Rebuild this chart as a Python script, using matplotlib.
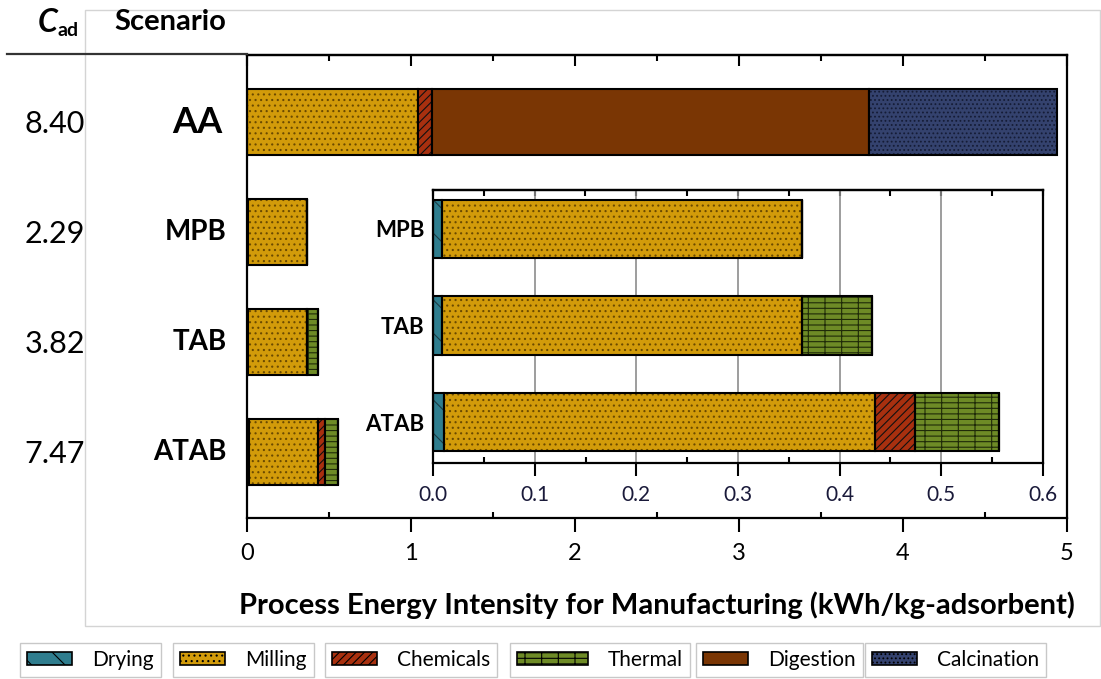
import matplotlib.pyplot as plt
import numpy as np
from matplotlib.patches import Patch, Rectangle
from matplotlib.lines import Line2D
from matplotlib.ticker import MultipleLocator

plt.rcParams['font.family'] = ['Lato', 'DejaVu Sans']
plt.rcParams['hatch.linewidth'] = 0.8

# data
scenarios = ["AA", "MPB", "TAB", "ATAB"]
c_ad = ["8.40", "2.29", "3.82", "7.47"]
stages = ["Drying", "Milling", "Chemicals", "Thermal", "Digestion", "Calcination"]
drying = [0.0, 0.009, 0.009, 0.011]
milling = [1.04, 0.354, 0.354, 0.424]
chemicals = [0.09, 0.0, 0.0, 0.039]
thermal = [0.0, 0.0, 0.069, 0.083]
digestion = [2.66, 0.0, 0.0, 0.0]
calcination = [1.15, 0.0, 0.0, 0.0]
values = [drying, milling, chemicals, thermal, digestion, calcination]

colors = ["#2F7D8E", "#D29B0A", "#A8300F", "#6E8B26", "#7A3604", "#34426E"]
hatches = ["\\", "...", "////", "--+", "", "...."]
hatch_cols = ["#1d3c44", "#6b4a00", "#111111", "#1f2a08", "#7A3604", "#151c36"]

fig = plt.figure(figsize=(11.01, 6.79), dpi=100)

# light frame and header line
fig.add_artist(Rectangle((85 / 1101, 1 - 626 / 679), 1015 / 1101, 616 / 679,
                         transform=fig.transFigure, fill=False, edgecolor="#d4d4d4", lw=1))
fig.add_artist(Line2D([7 / 1101, 247 / 1101], [1 - 54 / 679] * 2,
                      transform=fig.transFigure, color="#333333", lw=1.6))

ax = fig.add_axes([247 / 1101, 1 - 518 / 679, 820 / 1101, 463 / 679])
y = np.arange(len(scenarios))
left = np.zeros(len(scenarios))
for i, vals in enumerate(values):
    v = np.array(vals)
    ax.barh(y, v, left=left, height=0.6, color=colors[i], hatch=hatches[i],
            edgecolor=hatch_cols[i], linewidth=0)
    ax.barh(y, v, left=left, height=0.6, color="none", edgecolor="black", linewidth=1.5)
    left += v
ax.set_xlim(0, 5)
ax.set_ylim(3.6, -0.61)
ax.set_yticks([])
ax.xaxis.set_major_locator(MultipleLocator(1))
ax.xaxis.set_minor_locator(MultipleLocator(0.5))
ax.tick_params(axis='x', which='major', direction='out', length=10, width=1.5,
               labelsize=17, pad=8)
ax.tick_params(axis='x', which='minor', direction='in', length=4, width=1.5)
for s in ax.spines.values():
    s.set_linewidth(1.6)
sec = ax.secondary_xaxis('top')
sec.xaxis.set_major_locator(MultipleLocator(1))
sec.xaxis.set_minor_locator(MultipleLocator(0.5))
sec.tick_params(which='major', direction='in', length=8, width=1.5, labeltop=False)
sec.tick_params(which='minor', direction='in', length=4, width=1.5)
sec.spines['top'].set_linewidth(1.6)
ax.set_xlabel("Process Energy Intensity for Manufacturing (kWh/kg-adsorbent)",
              fontsize=21, fontweight='bold')
ax.xaxis.set_label_coords(0.5, -0.188)
ax.xaxis.label.set_va('center')

# scenario and C_ad labels
for i, name in enumerate(scenarios):
    ax.text(-0.03 if name == "AA" else -0.025, i, name, ha='right', va='center',
            fontsize=26 if name == "AA" else 20,
            fontweight='bold', transform=ax.get_yaxis_transform())
    fig.text(55 / 1101, 1 - (124 + 110 * i) / 679, c_ad[i], ha='center', va='center',
             fontsize=22)

fig.text(38 / 1101, 1 - 22 / 679, "C", fontsize=23, fontweight='bold', style='italic',
         ha='left', va='center')
fig.text(57 / 1101, 1 - 30 / 679, "ad", fontsize=14, fontweight='bold', ha='left', va='center')
fig.text(114 / 1101, 1 - 22 / 679, "Scenario", fontsize=21, fontweight='bold',
         ha='left', va='center')

# inset
ins = fig.add_axes([433 / 1101, 1 - 463 / 679, 610 / 1101, 273 / 679])
yi = np.arange(3)
left = np.zeros(3)
for i, vals in enumerate(values):
    v = np.array(vals[1:])
    ins.barh(yi, v, left=left, height=0.6, color=colors[i], hatch=hatches[i],
             edgecolor=hatch_cols[i], linewidth=0, zorder=2)
    ins.barh(yi, v, left=left, height=0.6, color="none", edgecolor="black",
             linewidth=1.5, zorder=3)
    left += v
ins.set_xlim(0, 0.6)
ins.set_ylim(2.42, -0.4)
ins.set_yticks(yi)
ins.set_yticklabels(scenarios[1:], fontsize=16, fontweight='bold')
ins.tick_params(axis='y', length=0, pad=6)
ins.xaxis.set_major_locator(MultipleLocator(0.1))
ins.xaxis.set_minor_locator(MultipleLocator(0.05))
ins.xaxis.set_major_formatter(lambda x, p: f"{x:.1f}")
ins.tick_params(axis='x', which='major', direction='out', length=9, width=1.5,
                labelsize=15, pad=7, labelcolor="#1a1a3a")
ins.tick_params(axis='x', which='minor', direction='in', length=4, width=1.5)
ins.grid(axis='x', color="#8c8c8c", lw=1.2, zorder=0)
for s in ins.spines.values():
    s.set_linewidth(1.6)
sec2 = ins.secondary_xaxis('top')
sec2.xaxis.set_major_locator(MultipleLocator(0.1))
sec2.xaxis.set_minor_locator(MultipleLocator(0.05))
sec2.tick_params(which='both', direction='in', length=4, width=1.5, labeltop=False)
sec2.spines['top'].set_linewidth(1.6)

# legend boxes, one per stage
boxes = [20, 173, 325, 510, 696, 865]
handle_len = [2.15, 2.15, 2.15, 3.4, 2.15, 2.15]
for i, name in enumerate(stages):
    h = Patch(facecolor=colors[i], hatch=hatches[i], edgecolor="black", linewidth=1.2)
    lg = fig.legend(handles=[h], labels=[name], loc='center left',
                    bbox_to_anchor=(boxes[i] / 1101, 1 - 660 / 679), borderaxespad=0,
                    fontsize=15, handlelength=handle_len[i], handleheight=0.6,
                    handletextpad=0.95, fancybox=False, edgecolor="#c8c8c8",
                    framealpha=1, borderpad=0.35)
    lg.get_frame().set_linewidth(1.0)

fig.savefig("out.png", dpi=100)
